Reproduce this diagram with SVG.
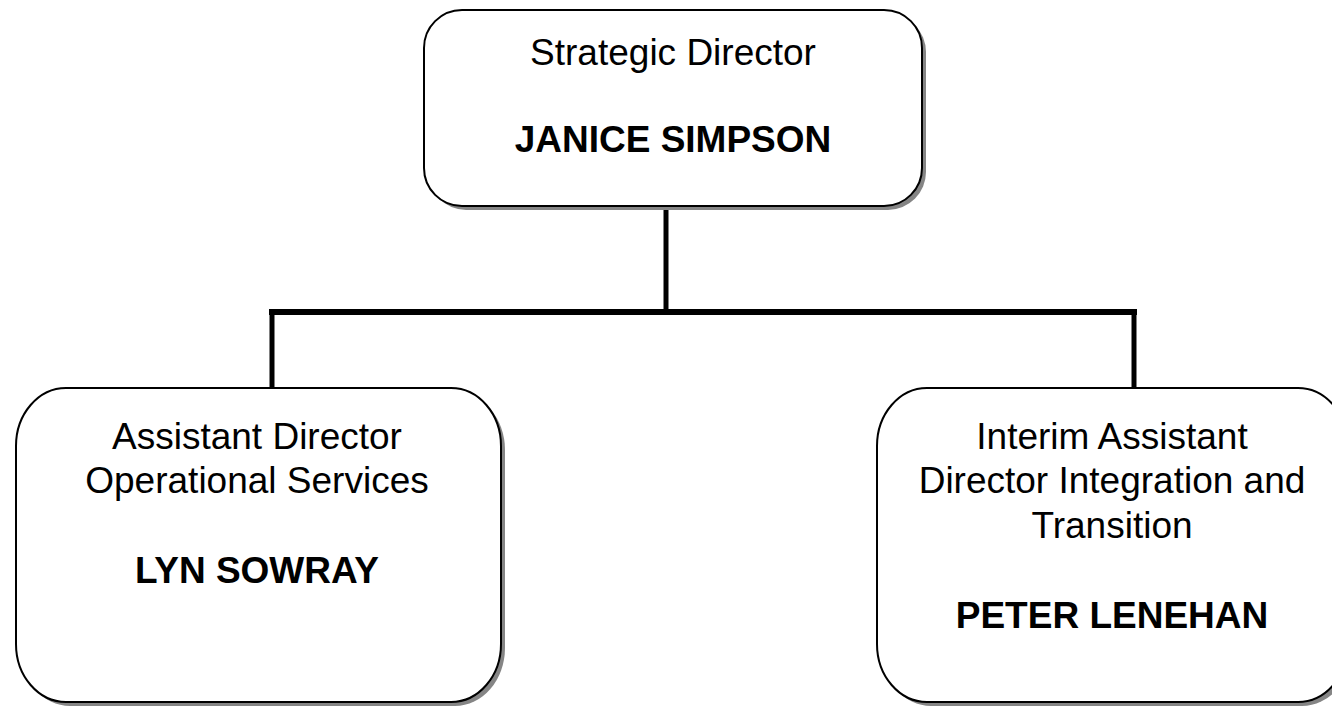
<svg xmlns="http://www.w3.org/2000/svg" width="1332" height="708" viewBox="0 0 1332 708">
<style>
.shadow{fill:#858585;stroke:none}
.box{fill:#ffffff;stroke:#000000;stroke-width:2}
.t{font-family:"Liberation Sans",Arial,sans-serif;font-size:37px;fill:#000;text-anchor:middle}
.b{font-weight:bold}
.conn{stroke:#000;fill:none;stroke-linecap:square}
</style>
<rect width="1332" height="708" fill="#ffffff"/>
<g id="connectors">
<line class="conn" x1="666" y1="207" x2="666" y2="312" stroke-width="5"/>
<line class="conn" x1="272" y1="312" x2="1134" y2="312" stroke-width="6"/>
<line class="conn" x1="272" y1="312" x2="272" y2="387" stroke-width="5"/>
<line class="conn" x1="1134" y1="312" x2="1134" y2="387" stroke-width="5"/>
</g>
<g id="node-strategic-director">
<rect class="shadow" x="428" y="14" width="498" height="196" rx="38" ry="38"/>
<rect class="box" x="424" y="10" width="498" height="196" rx="38" ry="38"/>
<text class="t" x="673" y="65">Strategic Director</text>
<text class="t b" x="673" y="152">JANICE SIMPSON</text>
</g>
<g id="node-operational-services">
<rect class="shadow" x="20" y="392" width="485" height="314" rx="50" ry="58"/>
<rect class="box" x="16" y="388" width="485" height="314" rx="50" ry="58"/>
<text class="t" x="257" y="449">Assistant Director</text>
<text class="t" x="257" y="493">Operational Services</text>
<text class="t b" x="257" y="583">LYN SOWRAY</text>
</g>
<g id="node-integration-transition">
<rect class="shadow" x="881" y="392" width="471" height="314" rx="50" ry="58"/>
<rect class="box" x="877" y="388" width="471" height="314" rx="50" ry="58"/>
<text class="t" x="1112" y="449">Interim Assistant</text>
<text class="t" x="1112" y="493">Director Integration and</text>
<text class="t" x="1112" y="538">Transition</text>
<text class="t b" x="1112" y="628">PETER LENEHAN</text>
</g>
</svg>
